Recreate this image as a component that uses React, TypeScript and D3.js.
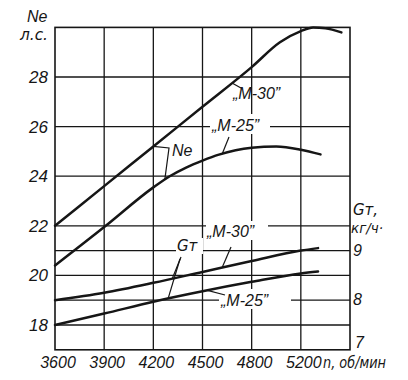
import React from 'react';
import * as d3 from 'd3';

// ---- data ----
const rpmTicks = [3600, 3900, 4200, 4500, 4800, 5200];
const rpmEdge = 5600;
const neTicks = [18, 20, 22, 24, 26, 28];
const neGrid = [18, 19, 20, 21, 22, 24, 26, 28];
const gtTicks = [7, 8, 9];

const neM30Rpm = [3600, 3900, 4200, 4500, 4800, 5030, 5200, 5300, 5400, 5530];
const neM30 = [22.0, 23.6, 25.2, 26.8, 28.4, 29.4, 29.85, 30.0, 29.97, 29.8];

const neM25Rpm = [3600, 3900, 4200, 4300, 4400, 4500, 4600, 4800, 5000, 5200, 5360];
const neM25 = [20.4, 21.95, 23.55, 24.0, 24.35, 24.63, 24.87, 25.15, 25.2, 25.07, 24.88];

const gtM30Rpm = [3600, 3900, 4200, 4500, 4800, 5200, 5340];
const gtM30 = [8.0, 8.15, 8.35, 8.57, 8.79, 9.0, 9.05];

const gtM25Rpm = [3600, 3900, 4200, 4500, 4800, 5200, 5340];
const gtM25 = [7.5, 7.73, 7.97, 8.18, 8.37, 8.54, 8.58];

const FONT = '"Liberation Sans", Arial, sans-serif';
const CYR = '"DejaVu Sans", sans-serif';
const INK = '#161616';

const L = 55, R = 350, T = 27.4, B = 349.8;

function interp(xs: number[], ys: number[], x: number) {
  for (let i = 0; i < xs.length - 1; i++) {
    if (x >= xs[i] && x <= xs[i + 1]) {
      const t = (x - xs[i]) / (xs[i + 1] - xs[i]);
      return ys[i] + t * (ys[i + 1] - ys[i]);
    }
  }
  return ys[ys.length - 1];
}

export default function App() {
  const dom = [...rpmTicks, rpmEdge];
  const x = d3.scaleLinear().domain(dom).range(dom.map((_, i) => L + (i * (R - L)) / (dom.length - 1)));
  const yNe = d3.scaleLinear().domain([17, 30]).range([B, T]);
  const yGt = d3.scaleLinear().domain([7, 13.5]).range([B, T]);

  const mk = (xs: number[], ys: number[], ys2: d3.ScaleLinear<number, number>) =>
    d3.line<number>().x((_, i) => x(xs[i])).y((v) => ys2(v)).curve(d3.curveMonotoneX)(ys) || '';

  const curves = [
    mk(neM30Rpm, neM30, yNe),
    mk(neM25Rpm, neM25, yNe),
    mk(gtM30Rpm, gtM30, yGt),
    mk(gtM25Rpm, gtM25, yGt),
  ];

  const pNe30 = (r: number) => [x(r), yNe(interp(neM30Rpm, neM30, r))];
  const pNe25 = (r: number) => [x(r), yNe(interp(neM25Rpm, neM25, r))];
  const pGt30 = (r: number) => [x(r), yGt(interp(gtM30Rpm, gtM30, r))];
  const pGt25 = (r: number) => [x(r), yGt(interp(gtM25Rpm, gtM25, r))];

  const leaders: number[][][] = [
    [pNe30(4200), [169, 148], pNe25(4270)],
    [pNe30(4680), [241, 88]],
    [pNe25(4620), [229, 137]],
    [[181, 257], pGt30(4315)],
    [[180, 259], pGt25(4290)],
    [pGt30(4620), [231, 247]],
    [pGt25(4530), [225, 295]],
  ];

  const labelBoxes = [
    { x: 210, y: 114, w: 60, h: 20 },
    { x: 206, y: 221, w: 62, h: 19 },
    { x: 176, y: 238, w: 27, h: 16 },
    { x: 219, y: 289, w: 72, h: 20 },
  ];

  const textStyle = { fontFamily: FONT, fontStyle: 'italic' as const, fill: INK };
  const cyrStyle = { fontFamily: CYR, fontStyle: 'oblique' as const, fill: INK };

  return (
    <svg width={408} height={380} style={{ position: 'absolute', left: 0, top: 0, background: '#fff' }}>
      <rect x={0} y={0} width={408} height={380} fill="#fff" />
      {/* grid */}
      {neGrid.map((v) => (
        <line key={'h' + v} x1={L} x2={R} y1={yNe(v)} y2={yNe(v)} stroke={INK} strokeWidth={1.3} />
      ))}
      {rpmTicks.slice(1).map((r) => (
        <line key={'v' + r} x1={x(r)} x2={x(r)} y1={T} y2={B} stroke={INK} strokeWidth={1.3} />
      ))}
      {/* label backgrounds */}
      {labelBoxes.map((b, i) => (
        <rect key={'b' + i} x={b.x} y={b.y} width={b.w} height={b.h} fill="#fff" />
      ))}
      {/* frame */}
      <rect x={L} y={T} width={R - L} height={B - T} fill="none" stroke={INK} strokeWidth={1.6} />
      {/* curves */}
      {curves.map((d, i) => (
        <path key={'c' + i} d={d} fill="none" stroke={INK} strokeWidth={2.5} strokeLinecap="round" />
      ))}
      {/* leaders */}
      {leaders.map((pts, i) => (
        <polyline key={'l' + i} points={pts.map((p) => p.join(',')).join(' ')} fill="none" stroke={INK} strokeWidth={1.2} />
      ))}
      {/* left axis labels */}
      {neTicks.map((v) => (
        <text key={'tl' + v} x={48} y={yNe(v) + 6} textAnchor="end" fontSize={17} style={textStyle}>
          {v}
        </text>
      ))}
      <text x={27} y={22} fontSize={16} style={textStyle}>Ne</text>
      <text x={20} y={40} fontSize={15} textLength={28} lengthAdjust="spacingAndGlyphs" style={cyrStyle}>л.с.</text>
      {/* bottom labels */}
      {rpmTicks.map((r) => (
        <text key={'tb' + r} x={x(r) + 3} y={368} textAnchor="middle" fontSize={16} style={textStyle}>
          {r}
        </text>
      ))}
      <text x={323} y={368} fontSize={15} textLength={63} lengthAdjust="spacingAndGlyphs" style={cyrStyle}>n, об/мин</text>
      {/* right axis labels */}
      {gtTicks.map((v) => (
        <text key={'tr' + v} x={v === 7 ? 355 : 353} y={v === 7 ? 348 : yGt(v) + 5} fontSize={16} style={textStyle}>
          {v}
        </text>
      ))}
      <text x={353} y={215} fontSize={15} style={cyrStyle}>Gт,</text>
      <text x={351} y={233} fontSize={14} textLength={32} lengthAdjust="spacingAndGlyphs" style={cyrStyle}>кг/ч·</text>
      {/* annotations */}
      <text x={172} y={156} fontSize={16} style={textStyle}>Ne</text>
      <text x={233} y={99} fontSize={16} style={textStyle}>„M-30”</text>
      <text x={212} y={131} fontSize={16} style={textStyle}>„M-25”</text>
      <text x={177} y={251} fontSize={15} style={cyrStyle}>Gт</text>
      <text x={207} y={237} fontSize={16} style={textStyle}>„M-30”</text>
      <text x={221} y={306} fontSize={16} style={textStyle}>„M-25”</text>
    </svg>
  );
}
